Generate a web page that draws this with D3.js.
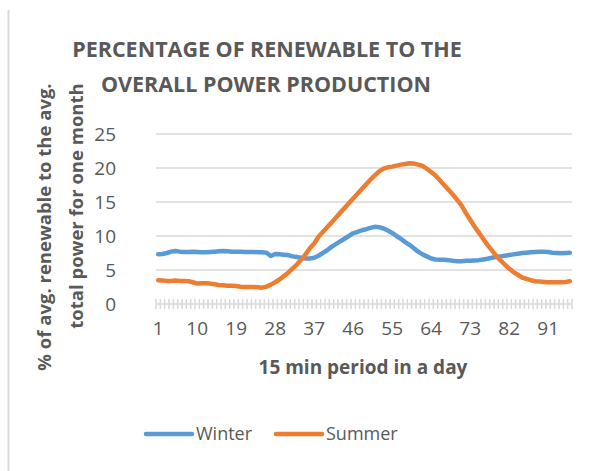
<!DOCTYPE html>
<html>
<head>
<meta charset="utf-8">
<script src="https://cdn.jsdelivr.net/npm/d3@7"></script>
<style>
  body { margin: 0; background: #fff; }
  text { font-family: "Open Sans", "DejaVu Sans", sans-serif; fill: #595959; }
</style>
</head>
<body>
<svg id="chart" width="605" height="471"></svg>
<script>
// 15 min periods
let periods = d3.range(1, 97);

let winter = [
  7.3, 7.35, 7.5, 7.7, 7.8, 7.7, 7.65, 7.65, 7.7, 7.65,
  7.6, 7.6, 7.65, 7.7, 7.75, 7.8, 7.75, 7.7, 7.7, 7.7,
  7.65, 7.65, 7.65, 7.6, 7.6, 7.55, 7.05, 7.35, 7.3, 7.25,
  7.2, 7.0, 6.9, 6.8, 6.7, 6.7, 6.8, 7.1, 7.5, 7.9,
  8.4, 8.8, 9.2, 9.6, 10.0, 10.4, 10.6, 10.85, 11.0, 11.2,
  11.35, 11.3, 11.1, 10.8, 10.45, 10.0, 9.6, 9.1, 8.7, 8.2,
  7.7, 7.3, 7.0, 6.7, 6.55, 6.5, 6.5, 6.45, 6.35, 6.3,
  6.3, 6.35, 6.35, 6.4, 6.45, 6.55, 6.65, 6.8, 6.9, 7.0,
  7.1, 7.2, 7.3, 7.4, 7.5, 7.55, 7.6, 7.65, 7.7, 7.7,
  7.65, 7.55, 7.5, 7.45, 7.5, 7.55
];

let summer = [
  3.5, 3.45, 3.4, 3.4, 3.45, 3.4, 3.4, 3.35, 3.2, 3.0,
  3.05, 3.05, 3.0, 2.9, 2.8, 2.75, 2.7, 2.7, 2.65, 2.55,
  2.5, 2.5, 2.5, 2.45, 2.4, 2.55, 2.85, 3.2, 3.6, 4.1,
  4.6, 5.2, 5.8, 6.5, 7.3, 8.2, 8.9, 9.9, 10.6, 11.3,
  12.0, 12.7, 13.4, 14.1, 14.8, 15.5, 16.2, 16.9, 17.6, 18.3,
  18.9, 19.5, 19.9, 20.1, 20.2, 20.35, 20.5, 20.6, 20.7, 20.65,
  20.5, 20.3, 19.9, 19.4, 18.9, 18.2, 17.5, 16.8, 16.1, 15.3,
  14.5, 13.4, 12.4, 11.4, 10.5, 9.6, 8.7, 7.9, 7.1, 6.4,
  5.8, 5.2, 4.7, 4.3, 3.9, 3.7, 3.5, 3.35, 3.3, 3.25,
  3.2, 3.2, 3.2, 3.2, 3.25, 3.35
];

let yTicks = [0, 5, 10, 15, 20, 25];
let xTickLabels = [1, 10, 19, 28, 37, 46, 55, 64, 73, 82, 91];

let series = [
  { name: "Winter", values: winter, color: "#5B9BD5" },
  { name: "Summer", values: summer, color: "#ED7D31" }
];

let svg = d3.select("#chart");

// left border of the chart area
svg.append("line")
  .attr("x1", 8.5).attr("x2", 8.5)
  .attr("y1", 10).attr("y2", 471)
  .attr("stroke", "#d9d9d9").attr("stroke-width", 2);

let xScale = d3.scaleBand()
  .domain(periods)
  .range([156, 572]);

let yScale = d3.scaleLinear()
  .domain([0, 25])
  .range([304, 134]);

// gridlines
svg.append("g")
  .selectAll("line")
  .data(yTicks.filter(d => d > 0))
  .join("line")
  .attr("x1", 156).attr("x2", 572)
  .attr("y1", d => yScale(d)).attr("y2", d => yScale(d))
  .attr("stroke", "#d9d9d9").attr("stroke-width", 1.5);

// y axis labels
svg.append("g")
  .selectAll("text")
  .data(yTicks)
  .join("text")
  .attr("x", 116)
  .attr("y", d => yScale(d))
  .attr("dy", "0.35em")
  .attr("text-anchor", "end")
  .style("font-size", "19px")
  .text(d => d);

// x axis: baseline + tick marks between categories
let xAxis = svg.append("g");
xAxis.append("line")
  .attr("x1", 156).attr("x2", 572)
  .attr("y1", yScale(0)).attr("y2", yScale(0))
  .attr("stroke", "#d9d9d9").attr("stroke-width", 1.5);

xAxis.selectAll("line.tick")
  .data(periods.concat([97]))
  .join("line")
  .attr("class", "tick")
  .attr("x1", d => d === 97 ? 572 : xScale(d))
  .attr("x2", d => d === 97 ? 572 : xScale(d))
  .attr("y1", yScale(0) - 5).attr("y2", yScale(0) + 5)
  .attr("stroke", "#d9d9d9").attr("stroke-width", 1.5);

xAxis.selectAll("text")
  .data(xTickLabels)
  .join("text")
  .attr("x", d => xScale(d) + xScale.bandwidth() / 2)
  .attr("y", 328)
  .attr("dy", "0.35em")
  .attr("text-anchor", "middle")
  .style("font-size", "19px")
  .text(d => d);

// lines
let line = d3.line()
  .x((d, i) => xScale(periods[i]) + xScale.bandwidth() / 2)
  .y(d => yScale(d));

svg.append("g")
  .selectAll("path")
  .data(series)
  .join("path")
  .attr("d", d => line(d.values))
  .attr("fill", "none")
  .attr("stroke", d => d.color)
  .attr("stroke-width", 4.5)
  .attr("stroke-linejoin", "round")
  .attr("stroke-linecap", "round");

// title
let title = svg.append("text")
  .attr("text-anchor", "middle")
  .style("font-size", "21.5px")
  .style("font-weight", "bold");
title.append("tspan").attr("x", 267).attr("y", 57).text("PERCENTAGE OF RENEWABLE TO THE");
title.append("tspan").attr("x", 266).attr("y", 92).text("OVERALL POWER PRODUCTION");

// axis titles
svg.append("text")
  .attr("x", 363).attr("y", 367)
  .attr("dy", "0.35em")
  .attr("text-anchor", "middle")
  .style("font-size", "19px")
  .style("font-weight", "bold")
  .text("15 min period in a day");

svg.append("text")
  .attr("transform", "translate(45,227) rotate(-90)")
  .attr("dy", "0.35em")
  .attr("text-anchor", "middle")
  .style("font-size", "18.5px")
  .style("font-weight", "bold")
  .text("% of avg. renewable to the avg.");

svg.append("text")
  .attr("transform", "translate(77,206) rotate(-90)")
  .attr("dy", "0.35em")
  .attr("text-anchor", "middle")
  .style("font-size", "18.5px")
  .style("font-weight", "bold")
  .text("total power for one month");

// legend
let legend = svg.append("g")
  .selectAll("g")
  .data(series)
  .join("g")
  .attr("transform", (d, i) => "translate(" + (146 + i * 130) + ",434)");

legend.append("line")
  .attr("x1", 0).attr("x2", 46)
  .attr("stroke", d => d.color)
  .attr("stroke-width", 4.5)
  .attr("stroke-linecap", "round");

legend.append("text")
  .attr("x", 50)
  .attr("dy", "0.35em")
  .style("font-size", "18px")
  .text(d => d.name);
</script>
</body>
</html>
